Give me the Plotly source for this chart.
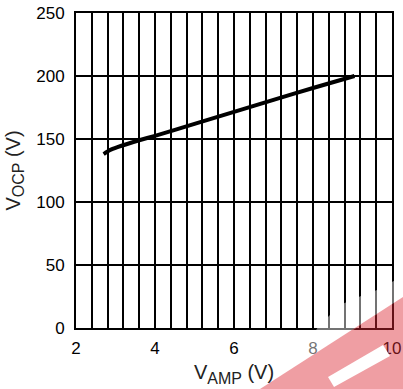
import plotly.graph_objects as go

# Data
v_amp = [2.7, 2.85, 3.05, 3.6, 4.0, 5.0, 6.0, 7.0, 8.0, 9.05]
v_ocp = [138, 141, 143.5, 149, 152.5, 162, 171.5, 181, 190.5, 200]

x_ticks = [2, 4, 6, 8, 10]
y_ticks = [0, 50, 100, 150, 200, 250]

FONT = "Liberation Sans, Arial, sans-serif"

fig = go.Figure()
fig.add_trace(go.Scatter(x=v_amp, y=v_ocp, mode="lines",
                         line=dict(color="black", width=4, shape="spline", smoothing=0.4),
                         showlegend=False, hoverinfo="skip"))

# plot area: px 76..392 horizontally, 13..328 vertically
L, R, T, B = 76, 392, 13, 328
def px(x, y):
    return (x - L) / (R - L), (B - y) / (B - T)

def path(pts):
    s = ""
    for i, (x, y) in enumerate(pts):
        a, b = px(x, y)
        s += ("M" if i == 0 else "L") + f"{a:.4f},{b:.4f} "
    return s + "Z"

shapes = [
    dict(type="path", xref="paper", yref="paper", layer="above",
         path=path([(290, 372), (303, 352), (318, 327), (340, 305), (361, 296),
                    (377, 290), (403, 276), (403, 297)]),
         fillcolor="white", opacity=0.45, line=dict(width=0)),
    dict(type="path", xref="paper", yref="paper", layer="above",
         path=path([(260, 389), (403, 297), (403, 389)]),
         fillcolor="rgb(220,40,50)", opacity=0.45, line=dict(width=0)),
    dict(type="path", xref="paper", yref="paper", layer="above",
         path=path([(328, 377), (383, 345), (390, 356), (334, 387)]),
         fillcolor="white", opacity=1, line=dict(width=0)),
]

fig.update_layout(
    width=403, height=389,
    margin=dict(l=L, r=403 - R, t=T, b=389 - B),
    paper_bgcolor="white", plot_bgcolor="white",
    font=dict(family=FONT, size=17, color="black"),
    shapes=shapes,
    xaxis=dict(range=[2, 10], tickvals=x_ticks, showgrid=True, gridcolor="black", gridwidth=1.5,
               minor=dict(dtick=0.4, tick0=2, showgrid=True, gridcolor="black", gridwidth=1.5),
               showline=True, linecolor="black", linewidth=2, mirror=True, zeroline=False,
               ticks="", ticklabelstandoff=4, automargin=False,
               title=dict(text="V<sub><span style='font-size:16px'>AMP</span></sub> (V)",
                          font=dict(size=20, color="#222"), standoff=8)),
    yaxis=dict(range=[0, 250], tickvals=y_ticks, showgrid=True, gridcolor="black", gridwidth=1.5,
               showline=True, linecolor="black", linewidth=2, mirror=True, zeroline=False,
               ticks="", ticklabelstandoff=6, automargin=False,
               title=dict(text="V<sub><span style='font-size:16px'>OCP</span></sub> (V)",
                          font=dict(size=20, color="#222"), standoff=10)),
)

fig.write_html("out.html")
